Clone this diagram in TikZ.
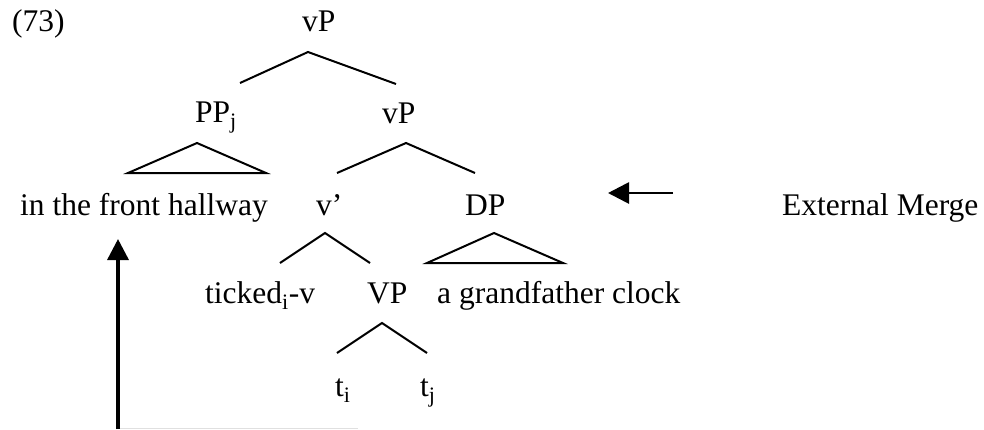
\documentclass[tikz,border=0pt]{standalone}
\usepackage{fontspec}
\setmainfont{Liberation Serif}
\usetikzlibrary{arrows.meta}
\begin{document}
\begin{tikzpicture}[x=1pt,y=-1pt,
  lbl/.style={inner sep=0pt,anchor=base west,font=\fontsize{31.5}{37}\selectfont},
  branch/.style={line width=2pt,line join=miter},
  mvarrow/.style={line width=3.4pt,-{Triangle[length=21pt,width=21pt]}}]
\useasboundingbox (0,0) rectangle (984,429);
% labels
\node[lbl] (ex) at (12,31) {(73)};
\node[lbl] (vP1) at (302,31) {vP};
\node[lbl] (PP) at (195,122) {PP\textsubscript{j}};
\node[lbl] (vP2) at (382,123) {vP};
\node[lbl] (hall) at (20,215) {in the front hallway};
\node[lbl] (vbar) at (316,215) {v’};
\node[lbl] (DP) at (465,215) {DP};
\node[lbl] (EM) at (782,215) {External Merge};
\node[lbl] (tick) at (205,303) {ticked\textsubscript{i}-v};
\node[lbl] (VP) at (367,303) {VP};
\node[lbl] (gf) at (437,303) {a grandfather clock};
\node[lbl] (ti) at (335,396) {t\textsubscript{i}};
\node[lbl] (tj) at (420,396) {t\textsubscript{j}};
% branch points
\coordinate (a1) at (308,52); \coordinate (l1) at (240,83); \coordinate (r1) at (396,84);
\coordinate (a2) at (197,143); \coordinate (l2) at (128,173); \coordinate (r2) at (266,173);
\coordinate (a3) at (406,143); \coordinate (l3) at (337,173); \coordinate (r3) at (475,173);
\coordinate (a4) at (494,233); \coordinate (l4) at (427,263); \coordinate (r4) at (563,263);
\coordinate (a5) at (325,233); \coordinate (l5) at (280,263); \coordinate (r5) at (370,263);
\coordinate (a6) at (382,323); \coordinate (l6) at (337,353); \coordinate (r6) at (427,353);
\draw[branch] (l1) -- (a1) -- (r1);
\draw[branch] (a2) -- (l2) -- (r2) -- cycle;
\draw[branch] (l3) -- (a3) -- (r3);
\draw[branch] (a4) -- (l4) -- (r4) -- cycle;
\draw[branch] (l5) -- (a5) -- (r5);
\draw[branch] (l6) -- (a6) -- (r6);
% arrows
\coordinate (emtail) at (673,193); \coordinate (emtip) at (608,193);
\draw[mvarrow,line width=2.8pt] (emtail) -- (emtip);
\coordinate (mvbot) at (118,429); \coordinate (mvtip) at (118,239);
\draw[mvarrow] (mvbot) -- (mvtip);
\coordinate (fl) at (120,428.5); \coordinate (fr) at (358,428.5);
\draw[black!12,line width=1pt] (fl) -- (fr);
\end{tikzpicture}
\end{document}
